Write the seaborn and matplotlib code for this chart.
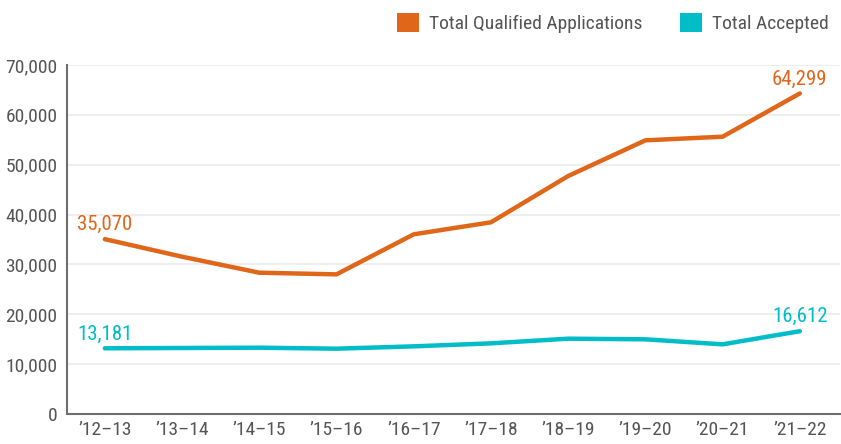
import matplotlib
matplotlib.use("Agg")
import matplotlib.pyplot as plt
from matplotlib import font_manager
from matplotlib.patches import Patch
import seaborn as sns
import pandas as pd

years = ["\u201912\u201313", "\u201913\u201314", "\u201914\u201315", "\u201915\u201316", "\u201916\u201317",
         "\u201917\u201318", "\u201918\u201319", "\u201919\u201320", "\u201920\u201321", "\u201921\u201322"]
qualified = [35070, 31550, 28340, 28010, 36040, 38450, 47730, 54890, 55620, 64299]
accepted = [13181, 13240, 13300, 13100, 13570, 14170, 15110, 14980, 13970, 16612]
series_names = ["Total Qualified Applications", "Total Accepted"]
colors = ["#E0661A", "#00BDC8"]
yticks = [0, 10000, 20000, 30000, 40000, 50000, 60000, 70000]

sns.set_theme(style="white")
names = {f.name for f in font_manager.fontManager.ttflist}
fam = [f for f in ["Liberation Sans Narrow", "Roboto Condensed", "DejaVu Sans Condensed"] if f in names] + ["DejaVu Sans"]
plt.rcParams["font.family"] = fam

df = pd.DataFrame({
    "year": years * 2,
    "idx": list(range(len(years))) * 2,
    "value": qualified + accepted,
    "series": [series_names[0]] * len(years) + [series_names[1]] * len(years),
})

fig = plt.figure(figsize=(8.41, 4.44), dpi=100)
ax = fig.add_axes([67 / 841, 1 - 414 / 444, (840 - 67) / 841, (414 - 65) / 444])
sns.lineplot(data=df, x="idx", y="value", hue="series", palette=colors, linewidth=3.2,
             ax=ax, legend=False, sort=False)

ax.set_xlim(-0.49, 9.52)
ax.set_ylim(0, 70000)
ax.set_yticks(yticks)
ax.set_yticklabels([f"{v:,}" for v in yticks])
ax.set_xticks(range(len(years)))
ax.set_xticklabels(years)
ax.set_xlabel("")
ax.set_ylabel("")
ax.grid(axis="y", color="#ebebeb", linewidth=1.2)
ax.set_axisbelow(True)
for s in ["top", "right"]:
    ax.spines[s].set_visible(False)
for s in ["left", "bottom"]:
    ax.spines[s].set_color("#6e6e6e")
    ax.spines[s].set_linewidth(1.5)
ax.tick_params(axis="y", length=0, labelsize=14, labelcolor="#555555", pad=7)
ax.tick_params(axis="x", direction="in", length=8, width=1, color="#c8c8c8",
               labelsize=14, labelcolor="#555555", pad=5)

def lab(i, v, c):
    ax.annotate(f"{v:,}", (i, v), xytext=(0, 3.5), textcoords="offset points",
                ha="center", va="bottom", fontsize=15, color=c)

lab(0, qualified[0], colors[0])
lab(9, qualified[9], colors[0])
lab(0, accepted[0], colors[1])
lab(9, accepted[9], colors[1])

handles = [Patch(facecolor=c, edgecolor="none") for c in colors]
fig.legend(handles, series_names, loc="upper right", bbox_to_anchor=(1.0, 1.0), ncol=2,
           frameon=False, fontsize=14, labelcolor="#555555", handlelength=1.15,
           handleheight=1.15, handletextpad=0.5, columnspacing=1.9, borderaxespad=0.25)

fig.savefig("out.png", dpi=100)
